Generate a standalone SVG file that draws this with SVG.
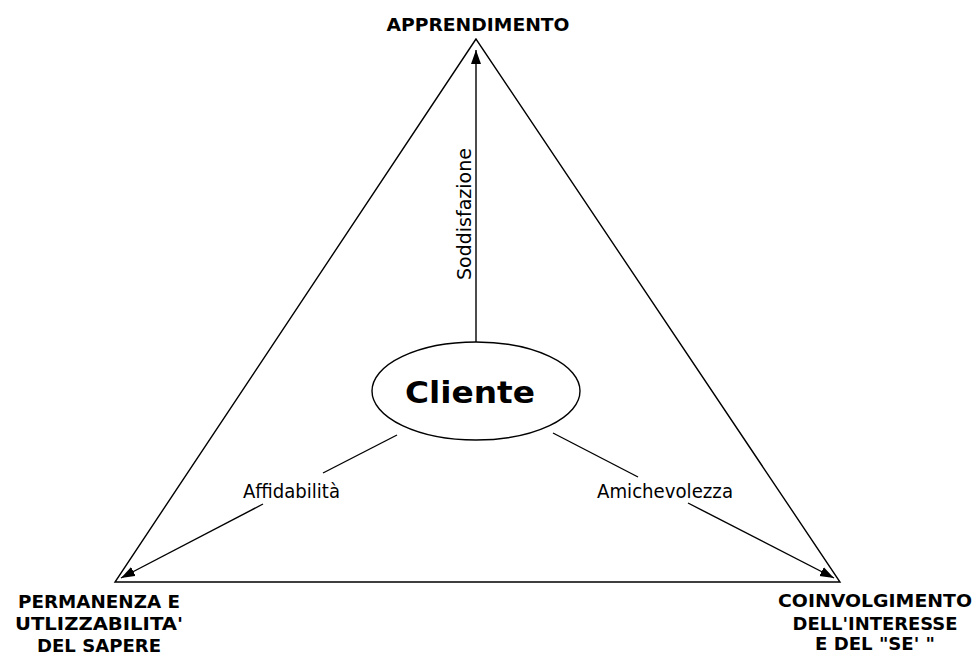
<svg xmlns="http://www.w3.org/2000/svg" width="973" height="661" viewBox="0 0 973 661">
<defs>
<marker id="arr" markerUnits="userSpaceOnUse" markerWidth="16" markerHeight="12" refX="14" refY="5" orient="auto">
<path d="M0,0 L14,5 L0,10 Z" fill="#000"/>
</marker>
<style>
.ln{stroke:#000;stroke-width:1.4;fill:none}
.lbl{font-family:"DejaVu Sans",Verdana,sans-serif;font-weight:bold;font-size:18.5px;fill:#000}
.small{font-family:"DejaVu Sans",Verdana,sans-serif;font-size:19px;fill:#000}
</style>
</defs>
<rect width="973" height="661" fill="#fff"/>
<g id="triangle">
<path class="ln" d="M476,39 L115,582 L840,582 Z" stroke-linejoin="miter"/>
</g>
<g id="connectors">
<line class="ln" x1="476" y1="342" x2="476" y2="50" marker-end="url(#arr)"/>
<line class="ln" x1="397" y1="435" x2="323" y2="473"/>
<line class="ln" x1="263" y1="504" x2="121" y2="578" marker-end="url(#arr)"/>
<line class="ln" x1="553" y1="433" x2="638" y2="477"/>
<line class="ln" x1="688" y1="503" x2="834" y2="578" marker-end="url(#arr)"/>
<text class="small" transform="translate(471,214) rotate(-90)" text-anchor="middle" textLength="132" lengthAdjust="spacingAndGlyphs">Soddisfazione</text>
<text class="small" x="243" y="498" textLength="97" lengthAdjust="spacingAndGlyphs">Affidabilità</text>
<text class="small" x="597" y="498" textLength="136" lengthAdjust="spacingAndGlyphs">Amichevolezza</text>
</g>
<g id="cliente">
<ellipse class="ln" cx="476" cy="391" rx="104" ry="49"/>
<text x="470" y="403" text-anchor="middle" font-family="DejaVu Sans,Verdana,sans-serif" font-weight="bold" font-size="31" textLength="130" lengthAdjust="spacingAndGlyphs">Cliente</text>
</g>
<g id="apprendimento">
<text class="lbl" x="478" y="31" font-size="19.5" text-anchor="middle" textLength="183" lengthAdjust="spacingAndGlyphs">APPRENDIMENTO</text>
</g>
<g id="permanenza">
<text class="lbl" x="99" y="608" text-anchor="middle" textLength="162" lengthAdjust="spacingAndGlyphs">PERMANENZA E</text>
<text class="lbl" x="99" y="630" text-anchor="middle" textLength="168" lengthAdjust="spacingAndGlyphs">UTLIZZABILITA'</text>
<text class="lbl" x="99" y="652" text-anchor="middle" textLength="124" lengthAdjust="spacingAndGlyphs">DEL SAPERE</text>
</g>
<g id="coinvolgimento">
<text class="lbl" x="875" y="607" text-anchor="middle" textLength="194" lengthAdjust="spacingAndGlyphs">COINVOLGIMENTO</text>
<text class="lbl" x="875" y="630" text-anchor="middle" textLength="165" lengthAdjust="spacingAndGlyphs">DELL'INTERESSE</text>
<text class="lbl" x="875" y="650" text-anchor="middle" textLength="120" lengthAdjust="spacingAndGlyphs">E DEL "SE' "</text>
</g>
</svg>
